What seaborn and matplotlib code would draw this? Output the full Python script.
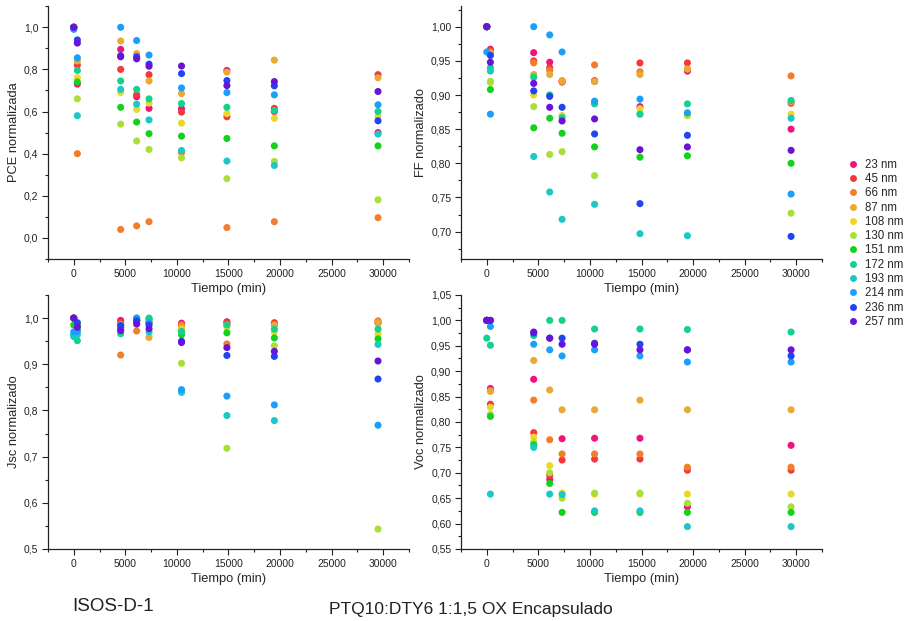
import numpy as np
import pandas as pd
import matplotlib
matplotlib.use("Agg")
import matplotlib.pyplot as plt
from matplotlib.ticker import MultipleLocator, FuncFormatter
from matplotlib.lines import Line2D
import seaborn as sns

# tiempos de medida (min)
tiempos = [0, 350, 4550, 6100, 7300, 10450, 14850, 19450, 29500]
espesores = ["23 nm", "45 nm", "66 nm", "87 nm", "108 nm", "130 nm",
             "151 nm", "172 nm", "193 nm", "214 nm", "236 nm", "257 nm"]
colores = ["#f0127f", "#f5383c", "#f27d2a", "#e8aa32", "#e8d82a", "#a8e03a",
           "#14d21c", "#14d28c", "#1ac8c8", "#1aa0fa", "#2244f0", "#6a12d8"]

# una fila por espesor, una columna por tiempo
pce = [
    [1.0, 0.73, 0.895, 0.67, 0.615, 0.613, 0.795, 0.60, 0.50],
    [1.0, 0.82, 0.80, 0.68, 0.775, 0.597, 0.575, 0.615, 0.775],
    [1.0, 0.40, 0.04, 0.057, 0.077, 0.405, 0.049, 0.077, 0.096],
    [1.0, 0.84, 0.935, 0.875, 0.745, 0.685, 0.787, 0.844, 0.76],
    [1.0, 0.76, 0.69, 0.61, 0.64, 0.545, 0.59, 0.568, 0.575],
    [1.0, 0.66, 0.54, 0.46, 0.42, 0.38, 0.281, 0.363, 0.181],
    [1.0, 0.74, 0.62, 0.55, 0.495, 0.483, 0.472, 0.437, 0.437],
    [1.0, 0.795, 0.745, 0.705, 0.66, 0.638, 0.62, 0.605, 0.60],
    [1.0, 0.58, 0.705, 0.635, 0.56, 0.415, 0.365, 0.344, 0.493],
    [0.99, 0.855, 1.0, 0.937, 0.868, 0.712, 0.69, 0.679, 0.632],
    [1.0, 0.94, 0.865, 0.86, 0.825, 0.78, 0.747, 0.722, 0.556],
    [1.0, 0.925, 0.86, 0.85, 0.815, 0.816, 0.723, 0.742, 0.695],
]
ff = [
    [1.0, 0.967, 0.962, 0.948, 0.919, 0.921, 0.883, 0.935, 0.85],
    [1.0, 0.965, 0.95, 0.94, 0.92, 0.92, 0.947, 0.947, 0.888],
    [1.0, 0.963, 0.947, 0.936, 0.921, 0.944, 0.934, 0.938, 0.928],
    [1.0, 0.962, 0.93, 0.93, 0.92, 0.92, 0.93, 0.938, 0.89],
    [1.0, 0.918, 0.90, 0.90, 0.87, 0.89, 0.88, 0.87, 0.872],
    [1.0, 0.92, 0.883, 0.813, 0.817, 0.782, 0.872, 0.87, 0.727],
    [1.0, 0.908, 0.852, 0.866, 0.844, 0.824, 0.809, 0.811, 0.80],
    [1.0, 0.94, 0.926, 0.90, 0.867, 0.887, 0.872, 0.887, 0.892],
    [1.0, 0.935, 0.81, 0.758, 0.718, 0.74, 0.697, 0.694, 0.866],
    [0.963, 0.872, 1.0, 0.988, 0.963, 0.891, 0.894, 0.874, 0.755],
    [1.0, 0.958, 0.906, 0.898, 0.882, 0.843, 0.741, 0.841, 0.693],
    [1.0, 0.948, 0.917, 0.882, 0.862, 0.865, 0.82, 0.824, 0.819],
]
jsc = [
    [1.0, 0.975, 0.995, 0.995, 0.99, 0.989, 0.992, 0.988, 0.99],
    [1.0, 0.98, 0.99, 0.995, 0.99, 0.985, 0.99, 0.99, 0.99],
    [1.0, 0.98, 0.92, 0.972, 0.99, 0.985, 0.944, 0.985, 0.994],
    [1.0, 0.975, 0.985, 0.99, 0.958, 0.98, 0.985, 0.985, 0.99],
    [1.0, 0.98, 0.985, 0.995, 0.99, 0.975, 0.98, 0.97, 0.965],
    [1.0, 0.975, 0.98, 0.995, 0.995, 0.902, 0.718, 0.94, 0.543],
    [0.985, 0.985, 0.98, 0.995, 0.998, 0.964, 0.968, 0.957, 0.955],
    [0.965, 0.951, 0.966, 0.995, 1.0, 0.971, 0.985, 0.976, 0.976],
    [0.96, 0.964, 0.975, 1.0, 0.97, 0.839, 0.789, 0.778, 0.943],
    [0.97, 0.971, 0.98, 1.0, 0.99, 0.845, 0.831, 0.812, 0.768],
    [1.0, 0.99, 0.984, 0.994, 0.985, 0.95, 0.919, 0.917, 0.868],
    [1.0, 0.98, 0.973, 0.987, 0.977, 0.947, 0.936, 0.928, 0.907],
]
voc = [
    [1.0, 0.866, 0.884, 0.687, 0.767, 0.768, 0.768, 0.633, 0.754],
    [1.0, 0.835, 0.779, 0.695, 0.725, 0.727, 0.727, 0.705, 0.705],
    [1.0, 0.862, 0.843, 0.765, 0.737, 0.737, 0.737, 0.711, 0.711],
    [1.0, 0.86, 0.921, 0.863, 0.824, 0.824, 0.843, 0.824, 0.824],
    [1.0, 0.829, 0.77, 0.714, 0.66, 0.658, 0.658, 0.658, 0.658],
    [1.0, 0.815, 0.76, 0.70, 0.65, 0.66, 0.66, 0.64, 0.633],
    [1.0, 0.811, 0.755, 0.679, 0.622, 0.622, 0.622, 0.622, 0.622],
    [0.965, 0.951, 0.97, 1.0, 1.0, 0.983, 0.983, 0.982, 0.977],
    [1.0, 0.658, 0.75, 0.658, 0.657, 0.625, 0.625, 0.594, 0.594],
    [1.0, 0.988, 0.953, 0.942, 0.93, 0.942, 0.93, 0.918, 0.918],
    [1.0, 1.0, 0.975, 0.965, 0.965, 0.955, 0.953, 0.942, 0.93],
    [1.0, 1.0, 0.977, 0.965, 0.953, 0.953, 0.942, 0.942, 0.942],
]


def a_tabla(valores):
    filas = []
    for nombre, serie in zip(espesores, valores):
        for t, v in zip(tiempos, serie):
            filas.append({"t": t, "v": v, "esp": nombre})
    return pd.DataFrame(filas)


sns.set_style("ticks")
plt.rcParams["font.family"] = ["Liberation Sans", "DejaVu Sans"]

fig = plt.figure(figsize=(9.1, 6.21), dpi=100)
w, h = 0.3967, 0.407
paneles = [
    (pce, "PCE normalizada", [0.0527, 0.583, w, h], (-0.1, 1.1), 0.2, 0.1, "{:.1f}"),
    (ff, "FF normalizado", [0.5066, 0.583, w, h], (0.66, 1.03), 0.05, 0.025, "{:.2f}"),
    (jsc, "Jsc normalizado", [0.0527, 0.116, w, 0.409], (0.5, 1.05), 0.1, 0.05, "{:.1f}"),
    (voc, "Voc normalizado", [0.5066, 0.116, w, 0.409], (0.55, 1.05), 0.05, 0.025, "{:.2f}"),
]

for valores, etiqueta, pos, ylim, paso, menor, fmt in paneles:
    ax = fig.add_axes(pos)
    sns.scatterplot(data=a_tabla(valores), x="t", y="v", hue="esp",
                    palette=colores, s=26, linewidth=0, legend=False, ax=ax)
    ax.set_xlim(-2500, 32500)
    ax.set_ylim(*ylim)
    ax.xaxis.set_major_locator(MultipleLocator(5000))
    ax.xaxis.set_minor_locator(MultipleLocator(2500))
    ax.yaxis.set_major_locator(MultipleLocator(paso))
    ax.yaxis.set_minor_locator(MultipleLocator(menor))
    ax.yaxis.set_major_formatter(
        FuncFormatter(lambda v, p, f=fmt: f.format(v).replace(".", ",")))
    ax.tick_params(which="major", length=4, width=0.8, labelsize=7.5,
                   colors="#222222", pad=3)
    ax.tick_params(which="minor", length=2.5, width=0.8, colors="#222222")
    for lado in ("top", "right"):
        ax.spines[lado].set_visible(False)
    for lado in ("left", "bottom"):
        ax.spines[lado].set_linewidth(0.9)
        ax.spines[lado].set_color("#222222")
    ax.set_xlabel("Tiempo (min)", fontsize=9.3, labelpad=3)
    ax.set_ylabel(etiqueta, fontsize=9.3, labelpad=3)

marcas = [Line2D([], [], marker="o", linestyle="", color=c, markersize=5,
                 markeredgewidth=0) for c in colores]
fig.legend(marcas, espesores, loc="upper left", bbox_to_anchor=(0.928, 0.752),
           frameon=False, fontsize=8.3, handletextpad=0.8, labelspacing=0.2,
           handlelength=0.6, borderaxespad=0)

fig.text(0.079, 0.016, "ISOS-D-1", fontsize=13.5, color="#222222")
fig.text(0.517, 0.012, "PTQ10:DTY6 1:1,5 OX Encapsulado", fontsize=12.5,
         color="#222222", ha="center")

fig.savefig("out.png", dpi=100)
